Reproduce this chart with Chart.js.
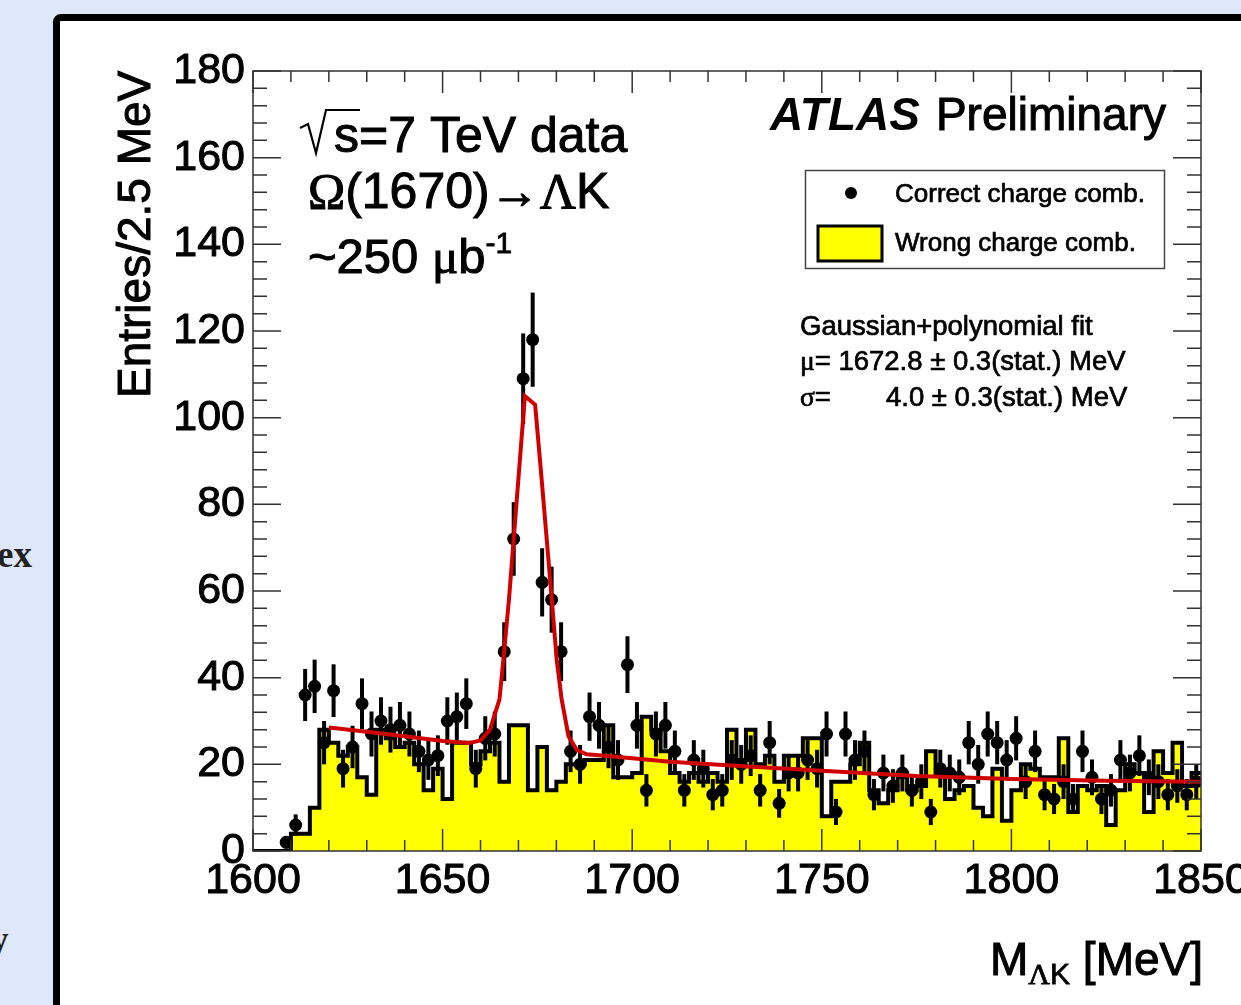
<!DOCTYPE html>
<html>
<head>
<meta charset="utf-8">
<script src="https://cdn.jsdelivr.net/npm/chart.js@4.4.1/dist/chart.umd.min.js"></script>
<style>
  html, body { margin: 0; padding: 0; }
  body { width: 1241px; height: 1005px; overflow: hidden; position: relative; background: #dee8fa; }
  .frame { position: absolute; left: 53px; top: 14px; width: 1300px; height: 1100px; box-sizing: border-box;
           border: 7px solid #000; border-radius: 8px; background: #fff; }
  .side { position: absolute; font-family: "Liberation Serif", "Times New Roman", serif; font-weight: bold; font-size: 37px; color: #222; }
  canvas { position: absolute; left: 0; top: 0; }
</style>
</head>
<body>
<div class="frame"></div>
<div class="side" style="left:-3px; top:533px;">ex</div>
<div class="side" style="left:-10px; top:918px;">y</div>
<canvas id="omega-chart" width="1241" height="1005"></canvas>
<script>
// histogram binning (MeV)
const massMin = 1600;
const binWidth = 2.5;

// correct charge combination, entries per 2.5 MeV bin (1600 -> 1850)
const correctCharge = [
  0, 0, 0, 2, 6, 36, 38, 25, 37, 19,
  24, 34, 27, 30, 28, 29, 27, 23, 21, 22,
  30, 31, 34, 19, 26, 27, 46, 72, 109, 118,
  62, 58, 46, 23, 20, 31, 29, 24, 21, 43,
  29, 14, 27, 29, 23, 14, 21, 19, 13, 14,
  21, 20, 22, 14, 25, 11, 18, 18, 21, 19,
  27, 9, 27, 21, 23, 13, 18, 15, 18, 14,
  16, 9, 19, 18, 17, 25, 20, 27, 25, 21,
  26, 16, 23, 13, 12, 16, 12, 23, 17, 12,
  14, 21, 18, 22, 17, 16, 13, 15, 13, 16
];

// wrong charge combination
const wrongCharge = [
  0, 0, 0, 0, 4, 4, 10, 28, 25, 22,
  24, 17, 13, 28, 26, 24, 25, 20, 14, 19,
  12, 25, 25, 20, 23, 25, 16, 29, 29, 14,
  24, 14, 16, 20, 20, 21, 21, 29, 17, 17,
  18, 31, 28, 23, 18, 16, 18, 16, 18, 16,
  28, 21, 28, 20, 22, 16, 22, 22, 26, 26,
  8, 16, 16, 20, 25, 14, 11, 14, 18, 14,
  15, 23, 18, 12, 14, 15, 10, 8, 19, 7,
  14, 20, 19, 17, 17, 26, 9, 15, 14, 15,
  6, 14, 20, 18, 9, 23, 18, 25, 15, 18
];

// Gaussian+polynomial fit curve
const fitMass = [1620, 1630, 1640, 1650, 1657, 1660, 1662.5, 1665, 1666, 1667.5, 1670, 1671.7, 1674.4,
                 1676.1, 1678.8, 1680.1, 1681.4, 1683.2, 1685.4, 1688, 1695, 1710, 1725, 1750, 1775, 1800, 1825, 1850];
const fitValues = [28.5, 27.5, 26.5, 25.4, 24.9, 25.5, 28, 35, 44, 58, 86, 105, 103,
                   86, 58, 44, 35, 26.5, 23.3, 22.3, 21.8, 20.6, 19.8, 18.5, 17.3, 16.6, 16.2, 16.0];

const xTicks = [1600, 1650, 1700, 1750, 1800, 1850];
const yTicks = [0, 20, 40, 60, 80, 100, 120, 140, 160, 180];

const sans = '"Liberation Sans", Arial, Helvetica, sans-serif';
const serif = '"Liberation Serif", "Times New Roman", serif';

const pointData = [];
correctCharge.forEach((n, i) => {
    if (n > 0) pointData.push({ x: massMin + binWidth * (i + 0.5), y: n });
});
const histData = wrongCharge.map((n, i) => ({ x: massMin + binWidth * i, y: n }));
histData.push({ x: massMin + binWidth * wrongCharge.length, y: wrongCharge[wrongCharge.length - 1] });
const fitData = fitMass.map((m, i) => ({ x: m, y: fitValues[i] }));

// fill + thin stroke so the text is as heavy as the original pdf rendering
function heavyText(ctx, t, x, y, w) {
    ctx.fillText(t, x, y);
    ctx.lineWidth = w || 0.8;
    ctx.strokeText(t, x, y);
}

function drawRuns(ctx, x, y, runs) {
    runs.forEach(r => {
        ctx.font = r.font;
        heavyText(ctx, r.t, x, y + (r.dy || 0), r.w);
        x += ctx.measureText(r.t).width;
    });
    return x;
}

const atlasDecor = {
    id: 'atlasDecor',
    afterDatasetDraw(chart, args) {
        if (args.index !== 1) return;
        // poisson error bars on the data points
        const { ctx, chartArea: a, scales: { x, y } } = chart;
        ctx.save();
        ctx.beginPath();
        ctx.rect(a.left, a.top, a.right - a.left, a.bottom - a.top);
        ctx.clip();
        ctx.strokeStyle = '#000';
        ctx.lineWidth = 4;
        pointData.forEach(p => {
            const e = Math.sqrt(p.y);
            const px = x.getPixelForValue(p.x);
            ctx.beginPath();
            ctx.moveTo(px, y.getPixelForValue(p.y - e));
            ctx.lineTo(px, y.getPixelForValue(p.y + e));
            ctx.stroke();
        });
        ctx.restore();
    },
    afterDraw(chart) {
        const { ctx, chartArea: a, scales: { x, y } } = chart;
        ctx.save();

        // frame + ticks on all four sides
        ctx.strokeStyle = '#333';
        ctx.lineWidth = 1.5;
        ctx.strokeRect(a.left, a.top, a.right - a.left, a.bottom - a.top);
        ctx.beginPath();
        for (let v = 0; v <= 180; v += 4) {
            const py = y.getPixelForValue(v);
            const len = v % 20 === 0 ? 28 : 14;
            ctx.moveTo(a.left, py); ctx.lineTo(a.left + len, py);
            ctx.moveTo(a.right, py); ctx.lineTo(a.right - len, py);
        }
        for (let m = 1600; m <= 1850; m += 10) {
            const px = x.getPixelForValue(m);
            const len = m % 50 === 0 ? 22 : 11;
            ctx.moveTo(px, a.bottom); ctx.lineTo(px, a.bottom - len);
            ctx.moveTo(px, a.top); ctx.lineTo(px, a.top + len);
        }
        ctx.stroke();

        ctx.fillStyle = '#000';
        ctx.strokeStyle = '#000';
        ctx.textAlign = 'left';
        ctx.textBaseline = 'alphabetic';

        // y title
        ctx.save();
        ctx.translate(150, 398);
        ctx.rotate(-Math.PI / 2);
        ctx.font = `46px ${sans}`;
        heavyText(ctx, 'Entries/2.5 MeV', 0, 0, 1);
        ctx.restore();

        // x title
        let xt = drawRuns(ctx, 990, 975, [{ t: 'M', font: `46px ${sans}`, w: 1 }]);
        xt = drawRuns(ctx, xt, 975, [
            { t: 'Λ', font: `30px ${serif}`, dy: 9 },
            { t: 'K', font: `30px ${sans}`, dy: 9 }
        ]);
        drawRuns(ctx, xt, 975, [{ t: ' [MeV]', font: `46px ${sans}`, w: 1 }]);

        // sqrt(s) label
        ctx.lineWidth = 2.2;
        ctx.beginPath();
        ctx.moveTo(300, 128); ctx.lineTo(308, 124); ctx.lineTo(316, 153); ctx.lineTo(326, 110); ctx.lineTo(360, 110);
        ctx.stroke();
        ctx.font = `50px ${sans}`;
        heavyText(ctx, 's=7 TeV data', 334, 152, 1);

        drawRuns(ctx, 308, 208, [
            { t: 'Ω', font: `50px ${serif}`, w: 1 },
            { t: '(1670)', font: `50px ${sans}`, w: 1 },
            { t: '→', font: `50px ${serif}`, w: 1 },
            { t: 'Λ', font: `50px ${serif}`, w: 1 },
            { t: 'K', font: `50px ${sans}`, w: 1 }
        ]);
        drawRuns(ctx, 308, 273, [
            { t: '~250 ', font: `49px ${sans}`, w: 1 },
            { t: 'μ', font: `49px ${serif}`, w: 1 },
            { t: 'b', font: `49px ${sans}`, w: 1 },
            { t: '-1', font: `30px ${sans}`, dy: -20 }
        ]);

        // ATLAS label
        ctx.font = `italic bold 46px ${sans}`;
        ctx.fillText('ATLAS', 770, 130);
        const aw = ctx.measureText('ATLAS').width;
        ctx.font = `46px ${sans}`;
        heavyText(ctx, 'Preliminary', 770 + aw + 16, 130, 1);

        // legend
        ctx.fillStyle = '#fff';
        ctx.fillRect(805, 170, 359, 98);
        ctx.strokeStyle = '#444';
        ctx.lineWidth = 1.5;
        ctx.strokeRect(805.5, 170.5, 359, 98);
        ctx.fillStyle = '#000';
        ctx.beginPath();
        ctx.arc(851, 193, 6, 0, Math.PI * 2);
        ctx.fill();
        ctx.fillStyle = '#ffff00';
        ctx.fillRect(818, 226, 64, 35);
        ctx.strokeStyle = '#000';
        ctx.lineWidth = 3;
        ctx.strokeRect(818, 226, 64, 35);
        ctx.fillStyle = '#000';
        ctx.font = `26px ${sans}`;
        heavyText(ctx, 'Correct charge comb.', 895, 202, 0.7);
        heavyText(ctx, 'Wrong charge comb.', 895, 251, 0.7);

        // fit results
        ctx.font = `27.5px ${sans}`;
        heavyText(ctx, 'Gaussian+polynomial fit', 800, 335, 0.7);
        drawRuns(ctx, 800, 370, [
            { t: 'μ', font: `27.5px ${serif}`, w: 0.7 },
            { t: '= 1672.8 ± 0.3(stat.) MeV', font: `27.5px ${sans}`, w: 0.7 }
        ]);
        drawRuns(ctx, 800, 406, [
            { t: 'σ', font: `27.5px ${serif}`, w: 0.7 },
            { t: '=', font: `27.5px ${sans}`, w: 0.7 }
        ]);
        ctx.font = `27.5px ${sans}`;
        heavyText(ctx, '4.0 ± 0.3(stat.) MeV', 886, 406, 0.7);

        ctx.restore();
    }
};

const ctx = document.getElementById('omega-chart').getContext('2d');

const omegaChart = new Chart(ctx, {
    type: 'scatter',
    data: {
        datasets: [
            {
                label: 'Gaussian+polynomial fit',
                type: 'line',
                data: fitData,
                borderColor: '#d00000',
                borderWidth: 4,
                pointRadius: 0,
                tension: 0,
                fill: false,
                order: 0
            },
            {
                label: 'Correct charge comb.',
                data: pointData,
                pointRadius: 6.5,
                pointBackgroundColor: '#000',
                pointBorderWidth: 0,
                order: 1
            },
            {
                label: 'Wrong charge comb.',
                type: 'line',
                data: histData,
                stepped: true,
                borderColor: '#000',
                borderWidth: 4,
                backgroundColor: '#ffff00',
                fill: 'origin',
                pointRadius: 0,
                order: 2
            }
        ]
    },
    options: {
        responsive: false,
        animation: false,
        layout: { padding: { top: 71, right: 40, bottom: 0, left: 0 } },
        plugins: {
            legend: { display: false },
            tooltip: { enabled: false }
        },
        scales: {
            x: {
                type: 'linear',
                min: 1600,
                max: 1850,
                afterBuildTicks: s => { s.ticks = xTicks.map(v => ({ value: v })); },
                afterFit: s => { s.height = 154; s.paddingLeft = 0; s.paddingRight = 0; },
                grid: { display: false, drawTicks: false },
                border: { display: false },
                ticks: {
                    color: '#000', font: { family: sans, size: 43 }, padding: 4, maxRotation: 0, autoSkip: false,
                    textStrokeColor: '#000', textStrokeWidth: 1,
                    callback: v => String(v)
                }
            },
            y: {
                min: 0,
                max: 180,
                afterBuildTicks: s => { s.ticks = yTicks.map(v => ({ value: v })); },
                afterFit: s => { s.width = 253; s.paddingTop = 0; s.paddingBottom = 0; },
                grid: { display: false, drawTicks: false },
                border: { display: false },
                ticks: {
                    color: '#000', font: { family: sans, size: 43 }, padding: 8,
                    textStrokeColor: '#000', textStrokeWidth: 1,
                    callback: v => String(v)
                }
            }
        }
    },
    plugins: [atlasDecor]
});
</script>
</body>
</html>
